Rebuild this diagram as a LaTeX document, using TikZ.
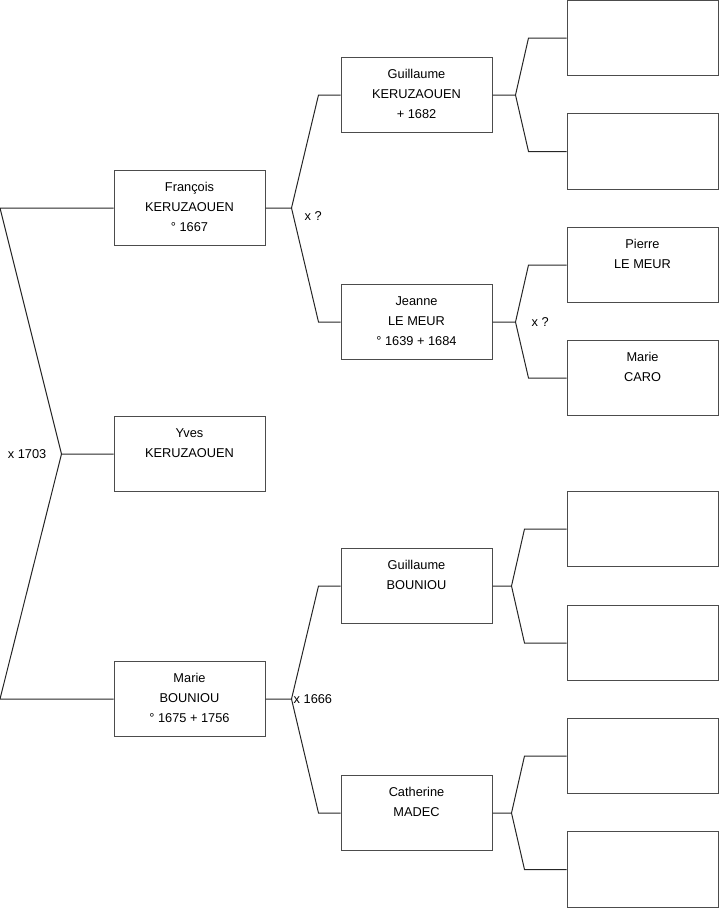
\documentclass[tikz,border=0pt]{standalone}
\usepackage{fontspec}
\setmainfont{Liberation Sans}
\usetikzlibrary{calc}

% text of a person box, set from the top
\newcommand{\persontext}[1]{\parbox[c][75.5pt][t]{151pt}{\centering\rule{0pt}{21.3pt}#1}}

\begin{document}
\begin{tikzpicture}[x=1pt,y=-1pt,
		person/.style={draw=black!70, line width=1pt, inner sep=0pt,
			minimum width=151pt, minimum height=75.5pt, font=\fontsize{12.8}{20}\selectfont},
		link/.style={draw=black!85, line width=1pt},
		union/.style={inner sep=0pt, font=\fontsize{12.8}{20}\selectfont}]
	\useasboundingbox (0,0) rectangle (719,908);
	% first column
	\node[person] (francois) at (189.5,208) {\persontext{François\\KERUZAOUEN\\° 1667}};
	\node[person] (yves) at (189.5,454) {\persontext{Yves\\KERUZAOUEN}};
	\node[person] (marieb) at (189.5,699) {\persontext{Marie\\BOUNIOU\\° 1675 + 1756}};
	% second column
	\node[person] (guillaumek) at (416.5,95) {\persontext{Guillaume\\KERUZAOUEN\\+ 1682}};
	\node[person] (jeanne) at (416.5,322) {\persontext{Jeanne\\LE MEUR\\° 1639 + 1684}};
	\node[person] (guillaumeb) at (416.5,586) {\persontext{Guillaume\\BOUNIOU}};
	\node[person] (catherine) at (416.5,813) {\persontext{Catherine\\MADEC}};
	% third column
	\node[person] (gk1) at (642.5,38) {};
	\node[person] (gk2) at (642.5,151.5) {};
	\node[person] (pierre) at (642.5,265) {\persontext{Pierre\\LE MEUR}};
	\node[person] (mariec) at (642.5,378) {\persontext{Marie\\CARO}};
	\node[person] (gb1) at (642.5,529) {};
	\node[person] (gb2) at (642.5,643) {};
	\node[person] (cm1) at (642.5,756) {};
	\node[person] (cm2) at (642.5,869.5) {};
	% Yves and his parents
	\draw[link] (yves.west) -- ++(-52,0) coordinate (m0) -- ([xshift=-113.5]francois.west) -- (francois.west);
	\draw[link] (m0) -- ([xshift=-113.5]marieb.west) -- (marieb.west);
	\node[union, anchor=east] (u0) at ([xshift=-15]m0) {x 1703};
	% parents of the second column
	\draw[link] (francois.east) -- ++(26,0) coordinate (m1) -- ([xshift=-22]guillaumek.west) -- (guillaumek.west);
	\draw[link] (m1) -- ([xshift=-22]jeanne.west) -- (jeanne.west);
	\node[union, anchor=west] (u1) at ([xshift=13,yshift=-8]m1) {x ?};
	\draw[link] (marieb.east) -- ++(26,0) coordinate (m2) -- ([xshift=-22]guillaumeb.west) -- (guillaumeb.west);
	\draw[link] (m2) -- ([xshift=-22]catherine.west) -- (catherine.west);
	\node[union, anchor=west] (u2) at ([xshift=2]m2) {x 1666};
	% parents of the third column
	\draw[link] (guillaumek.east) -- ++(23,0) coordinate (m3) -- ([xshift=-38]gk1.west) -- (gk1.west);
	\draw[link] (m3) -- ([xshift=-38]gk2.west) -- (gk2.west);
	\draw[link] (jeanne.east) -- ++(23,0) coordinate (m4) -- ([xshift=-38]pierre.west) -- (pierre.west);
	\draw[link] (m4) -- ([xshift=-38]mariec.west) -- (mariec.west);
	\node[union, anchor=west] (u4) at ([xshift=16]m4) {x ?};
	\draw[link] (guillaumeb.east) -- ++(19,0) coordinate (m5) -- ([xshift=-42]gb1.west) -- (gb1.west);
	\draw[link] (m5) -- ([xshift=-42]gb2.west) -- (gb2.west);
	\draw[link] (catherine.east) -- ++(19,0) coordinate (m6) -- ([xshift=-42]cm1.west) -- (cm1.west);
	\draw[link] (m6) -- ([xshift=-42]cm2.west) -- (cm2.west);
\end{tikzpicture}
\end{document}
